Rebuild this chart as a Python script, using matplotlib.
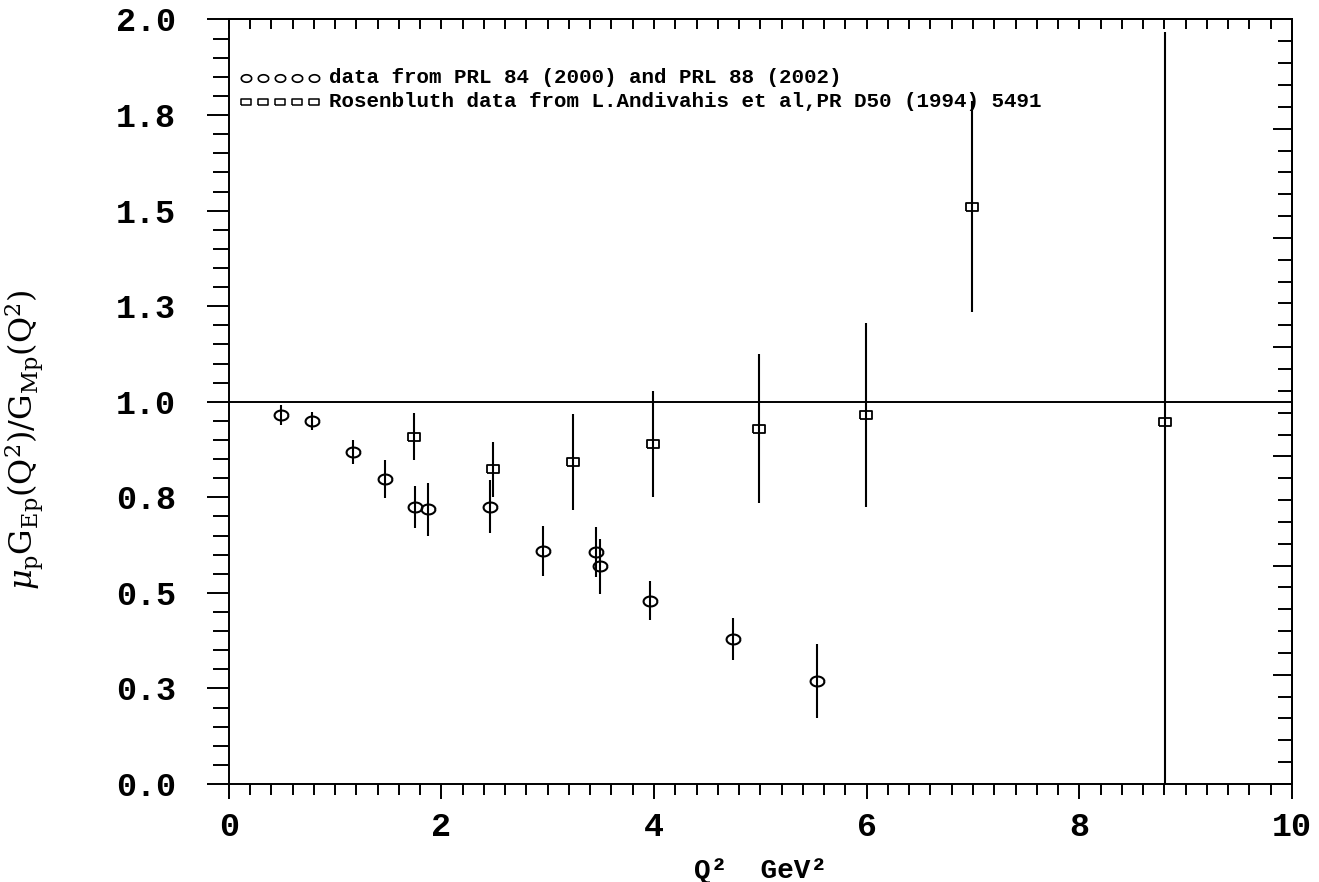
import matplotlib
matplotlib.use('Agg')
import matplotlib.pyplot as plt
import numpy as np
from matplotlib.ticker import FixedLocator, MultipleLocator

# polarization transfer results (PRL 84 and PRL 88)
prl_q2 = [0.49, 0.78, 1.17, 1.47, 1.75, 1.87, 2.46, 2.96, 3.45, 3.49, 3.96, 4.74, 5.53]
prl_ratio = [0.965, 0.950, 0.868, 0.797, 0.725, 0.719, 0.725, 0.610, 0.607, 0.570, 0.480, 0.380, 0.270]
prl_err = [0.026, 0.024, 0.031, 0.050, 0.055, 0.069, 0.069, 0.066, 0.066, 0.072, 0.052, 0.055, 0.097]

# Rosenbluth separation (Andivahis et al.)
ros_q2 = [1.74, 2.49, 3.24, 3.99, 4.99, 5.99, 6.99, 8.81]
ros_ratio = [0.909, 0.823, 0.843, 0.889, 0.930, 0.965, 1.510, 0.947]
ros_err = [0.062, 0.073, 0.126, 0.139, 0.196, 0.241, 0.276, 1.02]

y_major = [0.0, 0.25, 0.5, 0.75, 1.0, 1.25, 1.5, 1.75, 2.0]
y_labels = ['0.0', '0.3', '0.5', '0.8', '1.0', '1.3', '1.5', '1.8', '2.0']
x_major = [0, 2, 4, 6, 8, 10]

legend_prl = 'data from PRL 84 (2000) and PRL 88 (2002)'
legend_ros = 'Rosenbluth data from L.Andivahis et al,PR D50 (1994) 5491'

mono = 'Liberation Mono'
plt.rcParams['mathtext.fontset'] = 'dejavuserif'

# open ellipse and flat box markers
t = np.linspace(0, 2 * np.pi, 25)
ellipse = list(zip(np.cos(t), 0.72 * np.sin(t)))
box = [(-1, -0.65), (1, -0.65), (1, 0.65), (-1, 0.65), (-1, -0.65)]

fig = plt.figure(figsize=(13.19, 8.82), dpi=100)
ax = fig.add_axes([0.1734, 0.1111, 0.8061, 0.8668])

ax.axhline(1.0, color='k', lw=1.4, zorder=1)

ax.errorbar(prl_q2, prl_ratio, yerr=prl_err, fmt='none', ecolor='k', elinewidth=1.5)
ax.plot(prl_q2, prl_ratio, ls='none', marker=ellipse, ms=10, mfc='none', mec='k', mew=1.5)
ax.errorbar(ros_q2, ros_ratio, yerr=ros_err, fmt='none', ecolor='k', elinewidth=1.5)
ax.plot(ros_q2, ros_ratio, ls='none', marker=box, ms=9, mfc='none', mec='k', mew=1.3)

# legend rows: five symbols followed by the description
sym_x = [0.0165, 0.0325, 0.0485, 0.0645, 0.0805]
row_y = [0.9235, 0.8921]
ax.plot(sym_x, [row_y[0]] * 5, ls='none', marker=ellipse, ms=7.5, mfc='none', mec='k',
        mew=1.2, transform=ax.transAxes, clip_on=False)
ax.plot(sym_x, [row_y[1]] * 5, ls='none', marker=box, ms=7, mfc='none', mec='k',
        mew=1.1, transform=ax.transAxes, clip_on=False)
ax.text(0.0943, row_y[0], legend_prl, transform=ax.transAxes, va='center', ha='left',
        family=mono, weight='bold', fontsize=15)
ax.text(0.0943, row_y[1], legend_ros, transform=ax.transAxes, va='center', ha='left',
        family=mono, weight='bold', fontsize=15)

ax.set_xlim(0, 10)
ax.set_ylim(0, 2.0)

ax.set_yticks(y_major)
ax.set_yticklabels(y_labels, family=mono, weight='bold', fontsize=24)
ax.yaxis.set_minor_locator(MultipleLocator(0.05))
ax.set_xticks(x_major)
ax.set_xticklabels([str(v) for v in x_major], family=mono, weight='bold', fontsize=24)
ax.xaxis.set_minor_locator(MultipleLocator(0.2))

ax.tick_params(axis='y', which='major', direction='out', length=15.8, width=1.4, pad=22)
ax.tick_params(axis='y', which='minor', direction='out', length=11.5, width=1.4)
ax.tick_params(axis='x', which='major', direction='out', length=11, width=1.4, pad=9)
ax.tick_params(axis='x', which='minor', direction='out', length=8, width=1.4)
ax.tick_params(right=False, top=False, which='both')

for s in ax.spines.values():
    s.set_linewidth(1.4)

# right edge: inward ticks on their own spacing
right = ax.secondary_yaxis('right')
right.yaxis.set_major_locator(FixedLocator(2 - np.arange(8) * 2 / 7))
right.yaxis.set_minor_locator(FixedLocator(2 - np.arange(36) * 2 / 35))
right.tick_params(which='major', direction='in', length=14, width=1.4, labelright=False)
right.tick_params(which='minor', direction='in', length=10, width=1.4)
right.spines['right'].set_linewidth(1.4)

# top edge: inward ticks
top = ax.secondary_xaxis('top')
top.xaxis.set_major_locator(MultipleLocator(2))
top.xaxis.set_minor_locator(MultipleLocator(0.2))
top.tick_params(which='both', direction='in', length=7, width=1.4, labeltop=False)
top.spines['top'].set_linewidth(1.4)

ax.set_xlabel('Q\u00b2  GeV\u00b2', family=mono, weight='bold', fontsize=20)
ax.xaxis.set_label_coords(0.5, -0.097)
ax.set_ylabel(r'$\mu_{\rm p}{\rm G}_{\rm Ep}({\rm Q}^2)/{\rm G}_{\rm Mp}({\rm Q}^2)$', fontsize=23)
ax.yaxis.set_label_coords(-0.172, 0.45)

fig.savefig('out.png', dpi=100)
